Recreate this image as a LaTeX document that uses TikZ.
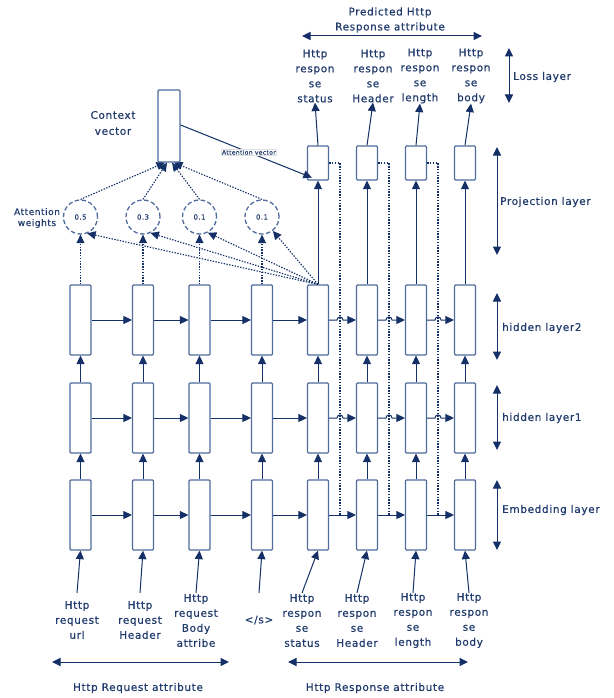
\documentclass[tikz,border=0pt]{standalone}
\usepackage{fontspec}
\setmainfont[LetterSpace=6,FakeBold=0.5]{DejaVu Sans}
\usetikzlibrary{arrows.meta,calc}
\definecolor{navy}{RGB}{20,48,102}
\definecolor{boxc}{RGB}{80,108,158}
\definecolor{txt}{RGB}{32,58,108}
\begin{document}
\begin{tikzpicture}[x=1pt,y=-1pt,
  every node/.style={text=txt},
  cell/.style={draw=boxc, line width=1.2pt, fill=white, minimum width=21pt, minimum height=70pt, inner sep=0pt, rounded corners=1pt},
  projcell/.style={cell, minimum height=34pt},
  ctxcell/.style={cell, minimum width=22pt, minimum height=72pt},
  arr/.style={draw=navy, line width=1pt, -{Triangle[length=8.5pt,width=8pt]}},
  darr/.style={draw=navy, line width=1pt, {Triangle[length=8.5pt,width=8pt]}-{Triangle[length=8.5pt,width=8pt]}},
  dotarr/.style={draw=navy, line width=1.1pt, dash pattern=on 1.4pt off 1.4pt, -{Triangle[length=8.5pt,width=8pt]}},
  dotline/.style={draw=navy, line width=1.1pt, dash pattern=on 1.4pt off 1.4pt},
  wcirc/.style={circle, draw=boxc, line width=1.3pt, dash pattern=on 4.5pt off 2.5pt, minimum size=34pt, inner sep=0pt, font=\fontsize{7}{8}\selectfont},
  lbl/.style={font=\fontsize{10.5}{15}\selectfont, align=center, inner sep=0pt},
  side/.style={font=\fontsize{10.5}{13}\selectfont, anchor=west, inner sep=0pt},
  attlbl/.style={font=\fontsize{6}{7}\selectfont, fill=white, draw=gray!25, inner sep=1pt},
]
\useasboundingbox (0,0) rectangle (613,698);

% cells
\foreach \x/\i in {80.5/1,143/2,199.5/3,262/4,318/5,367/6,416/7,465/8}{
  \node[cell] (h2\i) at (\x,320) {};
  \node[cell] (h1\i) at (\x,418) {};
  \node[cell] (e\i) at (\x,515) {};
}
\foreach \x/\i in {318/5,367/6,416/7,465/8}{
  \node[projcell] (p\i) at (\x,163) {};
}
\node[ctxcell] (ctx) at (169,126) {};
\node[lbl, font=\fontsize{10.5}{16}\selectfont] (ctxt) at (113,123) {Context\\vector};

% attention weights
\node[wcirc] (w1) at (80.5,217) {0.5};
\node[wcirc] (w2) at (143,217) {0.3};
\node[wcirc] (w3) at (199.5,217) {0.1};
\node[wcirc] (w4) at (262,217) {0.1};
\node[lbl, font=\fontsize{9}{11}\selectfont] (awt) at (37,218) {Attention\\weights};

% top labels
\node[lbl] (t5) at (315,76) {Http\\respon\\se\\status};
\node[lbl] (t6) at (373,76) {Http\\respon\\se\\Header};
\node[lbl] (t7) at (420,76) {Http\\respon\\se\\length};
\node[lbl] (t8) at (471,76) {Http\\respon\\se\\body};
\node[lbl] (pred) at (390,20) {Predicted Http\\Response attribute};
\coordinate (pl) at (302,36);
\coordinate (pr) at (482,36);
\draw[darr] (pl) -- (pr);

% bottom labels
\node[lbl] (b1) at (77,620) {Http\\request\\url};
\node[lbl] (b2) at (140,620) {Http\\request\\Header};
\node[lbl] (b3) at (196,620.5) {Http\\request\\Body\\attribe};
\node[lbl] (b4) at (259,620) {</s>};
\node[lbl] (b5) at (302,620.5) {Http\\respon\\se\\status};
\node[lbl] (b6) at (357,620.5) {Http\\respon\\se\\Header};
\node[lbl] (b7) at (413,620.5) {Http\\respon\\se\\length};
\node[lbl] (b8) at (469,620.5) {Http\\respon\\se\\body};
\foreach \i in {1,...,8}{
  \draw[arr] ($(b\i.center |- b3.north)+(0,-1)$) -- (e\i.south);
}
\coordinate (rq1) at (52,662);
\coordinate (rq2) at (229,662);
\draw[darr] (rq1) -- (rq2);
\node[lbl] (rqt) at (138,688) {Http Request attribute};
\coordinate (rs1) at (288,662);
\coordinate (rs2) at (468,662);
\draw[darr] (rs1) -- (rs2);
\node[lbl] (rst) at (375,688) {Http Response attribute};

% vertical arrows
\foreach \i in {1,...,8}{
  \draw[arr] (e\i) -- (h1\i);
  \draw[arr] (h1\i) -- (h2\i);
}
\foreach \i in {5,...,8}{
  \draw[arr] (h2\i) -- (p\i);
  \draw[arr] (p\i.north) -- (t\i.south);
}

% horizontal arrows
\foreach \r in {h2,h1,e}{
  \foreach \i/\j in {1/2,2/3,3/4,4/5}{
    \draw[arr] (\r\i) -- (\r\j);
  }
}
\foreach \i/\j/\hx in {5/6/340,6/7/389,7/8/438}{
  \draw[arr] (e\i) -- (e\j);
  \draw[arr] (h2\i.east) -- (\hx-3,320) .. controls (\hx-3,316) and (\hx+3,316) .. (\hx+3,320) -- (h2\j.west);
  \draw[arr] (h1\i.east) -- (\hx-3,418) .. controls (\hx-3,414) and (\hx+3,414) .. (\hx+3,418) -- (h1\j.west);
}

% feedback dotted lines
\coordinate (f5) at (340,515);
\coordinate (f6) at (389,515);
\coordinate (f7) at (438,515);
\draw[dotline] (p5.east) -| (f5);
\draw[dotline] (p6.east) -| (f6);
\draw[dotline] (p7.east) -| (f7);

% attention connections
\foreach \i in {1,...,4}{
  \draw[dotarr] (h2\i.north) -- (w\i.south);
}
\draw[dotarr] (h25.north) -- (w1.-68);
\draw[dotarr] (h25.north) -- (w2.-65);
\draw[dotarr] (h25.north) -- (w3.-62);
\draw[dotarr] (h25.north) -- (w4.-52);
\draw[dotarr] (w1.north) -- ($(ctx.south)+(-4,0)$);
\draw[dotarr] (w2.north) -- ($(ctx.south)+(-2,0)$);
\draw[dotarr] (w3.north) -- ($(ctx.south)+(3,0)$);
\draw[dotarr] (w4.north) -- ($(ctx.south)+(5,0)$);

% attention vector
\draw[arr] ($(ctx.east)+(0,-1)$) -- node[attlbl, pos=0.52] {Attention vector} ($(p5.south west)+(5,-3)$);

% layer markers
\coordinate (ll1) at (509,48);  \coordinate (ll2) at (509,103);
\draw[darr] (ll1) -- (ll2);
\node[side] (llt) at (513,77) {Loss layer};
\coordinate (pj1) at (497,147); \coordinate (pj2) at (497,255);
\draw[darr] (pj1) -- (pj2);
\node[side] (pjt) at (500,202) {Projection layer};
\coordinate (hb1) at (497,293); \coordinate (hb2) at (497,360);
\draw[darr] (hb1) -- (hb2);
\node[side] (hbt) at (502,328) {hidden layer2};
\coordinate (ha1) at (497,385); \coordinate (ha2) at (497,450);
\draw[darr] (ha1) -- (ha2);
\node[side] (hat) at (502,418) {hidden layer1};
\coordinate (em1) at (497,480); \coordinate (em2) at (497,550);
\draw[darr] (em1) -- (em2);
\node[side] (emt) at (502,510) {Embedding layer};
\end{tikzpicture}
\end{document}
